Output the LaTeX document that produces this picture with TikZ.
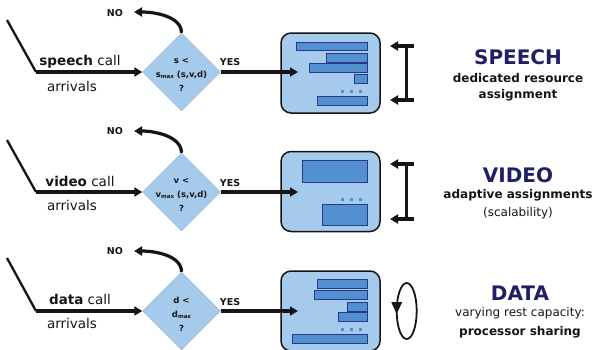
\documentclass[tikz,border=0pt]{standalone}
\usepackage{fontspec}
\setmainfont{DejaVu Sans}
\usetikzlibrary{shapes.geometric,arrows.meta}
\definecolor{lblue}{HTML}{A6CAEC}
\definecolor{bblue}{HTML}{5390D0}
\definecolor{bborder}{HTML}{263A8C}
\definecolor{navy}{HTML}{1F1F66}
\definecolor{ink}{HTML}{151515}
\newcommand{\mx}{\raisebox{-0.8pt}{\fontsize{5.5}{5.5}\selectfont max}}
\begin{document}
\begin{tikzpicture}[x=1pt,y=-1pt,
  mainline/.style={draw=ink,line width=3.2pt},
  slant/.style={draw=ink,line width=2.3pt},
  tip/.style={-{Triangle[length=8pt,width=9pt]}},
  dia/.style={diamond,fill=lblue,draw=lblue!85!black,line width=0.4pt,minimum width=78pt,minimum height=78pt,inner sep=0pt},
  rbox/.style={rectangle,rounded corners=10pt,fill=lblue,draw=ink,line width=1.5pt,minimum width=99pt,minimum height=80pt,inner sep=0pt},
  bar/.style={fill=bblue,draw=bborder,line width=1pt},
  dotc/.style={fill=bblue},
  lab/.style={font=\fontsize{13.5}{15}\selectfont,inner sep=0pt,text=ink},
  yn/.style={font=\bfseries\fontsize{9.5}{10}\selectfont,inner sep=0pt,text=ink},
  dtxt/.style={font=\bfseries\fontsize{8.5}{14}\selectfont,align=center,inner sep=0pt,text=ink},
  ttl/.style={font=\bfseries\fontsize{20}{22}\selectfont,text=navy,inner sep=0pt},
  subt/.style={font=\fontsize{12}{14}\selectfont,inner sep=0pt,text=ink},
  subb/.style={font=\bfseries\fontsize{12}{14}\selectfont,inner sep=0pt,text=ink},
]
\useasboundingbox (0,0) rectangle (605,349);

% ---------- Row 1: speech ----------
\coordinate (sa) at (7,20);
\coordinate (sb) at (36,72);
\node[dia] (sd) at (181.5,72) {};
\node[dtxt] (sdt) at (181.5,75) {s <\\ s\mx\ (s,v,d)\\ ?};
\coordinate (sno) at (134,12);
\node[yn] (snol) at (115,13) {NO};
\node[yn] (syes) at (230,62) {YES};
\node[rbox] (sbox) at (330.5,73) {};
\coordinate (sin) at (298,72);
\draw[slant] (sa) -- (sb);
\draw[mainline,tip] (sb) -- (sd.west);
\draw[mainline,tip] (sd.north) .. controls +(0,-16) and +(22,0) .. (sno);
\draw[mainline,tip] (sd.east) -- (sin);
\node[lab] (sl1) at (80,62) {\textbf{speech} call};
\node[lab] (sl2) at (72,86) {arrivals};
\draw[bar] (296,42) rectangle (367,50);
\draw[bar] (326,53) rectangle (367,62);
\draw[bar] (309,63.5) rectangle (367,72.5);
\draw[bar] (354,74) rectangle (367,83);
\foreach \x in {342,351,360} \fill[dotc] (\x-1.5,89.5) rectangle (\x+1.5,92.5);
\draw[bar] (317,96) rectangle (367,105);
\coordinate (st1) at (414,46); \coordinate (st2) at (390,46);
\coordinate (sb1) at (414,100); \coordinate (sb2) at (390,100);
\draw[draw=ink,line width=2.2pt] (406.5,46) -- (406.5,100);
\draw[mainline,tip] (st1) -- (st2);
\draw[mainline,tip] (sb1) -- (sb2);
\node[ttl] (stt) at (518,57) {SPEECH};
\node[subb] (ss1) at (518,78) {dedicated resource};
\node[subb] (ss2) at (518,95) {assignment};

% ---------- Row 2: video ----------
\coordinate (va) at (7,140);
\coordinate (vb) at (36,192);
\node[dia] (vd) at (181.5,192) {};
\node[dtxt] (vdt) at (181.5,195) {v <\\ v\mx\ (s,v,d)\\ ?};
\coordinate (vno) at (134,131);
\node[yn] (vnol) at (115,131) {NO};
\node[yn] (vyes) at (230,183) {YES};
\node[rbox] (vbox) at (330.5,191.5) {};
\coordinate (vin) at (298,192);
\draw[slant] (va) -- (vb);
\draw[mainline,tip] (vb) -- (vd.west);
\draw[mainline,tip] (vd.north) .. controls +(0,-16) and +(22,0) .. (vno);
\draw[mainline,tip] (vd.east) -- (vin);
\node[lab] (vl1) at (80,181) {\textbf{video} call};
\node[lab] (vl2) at (72,205) {arrivals};
\draw[bar] (302,160) rectangle (367,182);
\foreach \x in {342,351,360} \fill[dotc] (\x-1.5,197.5) rectangle (\x+1.5,200.5);
\draw[bar] (322,204) rectangle (367,225);
\coordinate (vt1) at (414,164); \coordinate (vt2) at (390,164);
\coordinate (vb1) at (414,219); \coordinate (vb2) at (390,219);
\draw[draw=ink,line width=2.2pt] (406.5,164) -- (406.5,219);
\draw[mainline,tip] (vt1) -- (vt2);
\draw[mainline,tip] (vb1) -- (vb2);
\node[ttl] (vtt) at (518,175) {VIDEO};
\node[subb] (vs1) at (518,195) {adaptive assignments};
\node[subt] (vs2) at (518,213) {(scalability)};

% ---------- Row 3: data ----------
\coordinate (da) at (7,258);
\coordinate (db) at (36,311);
\node[dia] (dd) at (181.5,311) {};
\node[dtxt] (ddt) at (181.5,314) {d <\\ d\mx\\ ?};
\coordinate (dno) at (134,251);
\node[yn] (dnol) at (115,251) {NO};
\node[yn] (dyes) at (230,302) {YES};
\node[rbox] (dbox) at (330.5,311) {};
\coordinate (din) at (298,311);
\draw[slant] (da) -- (db);
\draw[mainline,tip] (db) -- (dd.west);
\draw[mainline,tip] (dd.north) .. controls +(0,-16) and +(22,0) .. (dno);
\draw[mainline,tip] (dd.east) -- (din);
\node[lab] (dl1) at (80,299) {\textbf{data} call};
\node[lab] (dl2) at (72,323) {arrivals};
\draw[bar] (317,279) rectangle (367,288);
\draw[bar] (314,290) rectangle (367,299);
\draw[bar] (347,302) rectangle (367,311);
\draw[bar] (338,312.5) rectangle (367,321.5);
\foreach \x in {342,351,360} \fill[dotc] (\x-1.5,327.5) rectangle (\x+1.5,330.5);
\draw[bar] (292,334) rectangle (367,343);
\draw[draw=ink,line width=1.8pt] (406.7,311) ellipse [x radius=10, y radius=28];
\fill[ink] (391.2,302) -- (402.2,302) -- (396.7,314) -- cycle;
\node[ttl] (dtt) at (520,293) {DATA};
\node[subt] (ds1) at (520,313) {varying rest capacity:};
\node[subb] (ds2) at (520,332) {processor sharing};
\end{tikzpicture}
\end{document}
